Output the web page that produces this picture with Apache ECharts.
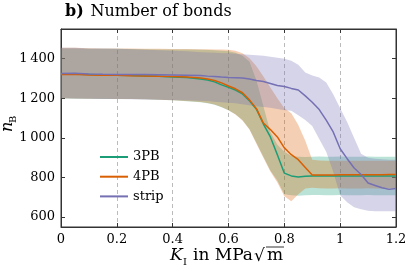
<!DOCTYPE html>
<html><head><meta charset="utf-8">
<script src="https://cdn.jsdelivr.net/npm/echarts@6/dist/echarts.min.js"></script>
<style>html,body{margin:0;padding:0;background:#fff}#c{width:410px;height:271px}</style>
</head><body><div id="c"></div>
<script>
// K_I values (MPa sqrt m)
var kVals = [0,0.05,0.1,0.15,0.2,0.25,0.3,0.35,0.4,0.45,0.5,0.525,0.55,0.575,0.6,0.625,0.65,0.675,0.7,0.725,0.75,0.775,0.8,0.825,0.85,0.875,0.9,0.925,0.95,0.975,1.0,1.025,1.05,1.075,1.1,1.125,1.15,1.175,1.2];
// 3PB
var mean3PB  = [1322,1322,1320,1318,1317,1315,1313,1311,1308,1305,1298,1292,1283,1268,1255,1242,1222,1188,1145,1070,1005,915,822,808,803,806,807,808,808,808,808,808,808,808,808,807,807,808,808];
var upper3PB = [1452,1452,1450,1450,1450,1449,1448,1447,1447,1446,1445,1444,1443,1440,1437,1430,1415,1385,1290,1160,1030,965,930,908,905,903,905,906,905,905,906,905,905,905,906,905,905,905,905];
var lower3PB = [1200,1198,1198,1197,1197,1196,1195,1193,1190,1185,1180,1175,1168,1155,1140,1120,1090,1045,975,905,835,785,715,710,708,710,712,711,710,710,711,710,710,710,711,710,710,710,710];
// 4PB
var mean4PB  = [1320,1321,1318,1317,1316,1314,1313,1311,1310,1307,1302,1297,1290,1278,1262,1248,1228,1192,1148,1075,1042,1005,950,915,890,850,813,813,813,813,814,814,814,814,814,814,814,815,815];
var upper4PB = [1455,1455,1453,1452,1452,1451,1450,1450,1449,1449,1448,1448,1447,1446,1445,1440,1428,1402,1362,1310,1255,1200,1150,1125,1065,985,890,886,885,885,885,885,885,885,885,885,885,885,885];
var lower4PB = [1200,1199,1198,1198,1197,1196,1195,1193,1190,1186,1181,1176,1169,1156,1140,1118,1088,1042,970,900,830,775,705,680,715,745,748,746,745,745,746,745,745,745,746,745,745,745,745];
// strip
var meanStrip  = [1325,1327,1323,1321,1320,1320,1320,1319,1318,1317,1315,1312,1310,1307,1305,1304,1303,1298,1290,1285,1275,1265,1260,1250,1242,1212,1180,1143,1090,1030,945,895,848,815,772,760,748,740,745];
var upperStrip = [1455,1455,1452,1451,1450,1448,1445,1443,1440,1437,1433,1431,1430,1428,1427,1425,1422,1420,1418,1415,1410,1405,1400,1390,1370,1330,1315,1305,1280,1220,1150,1080,1000,920,900,895,892,890,890];
var lowerStrip = [1200,1199,1198,1197,1196,1195,1194,1193,1192,1190,1188,1186,1183,1180,1178,1175,1170,1165,1160,1156,1152,1146,1140,1137,1115,1090,1060,995,930,830,710,675,650,640,632,630,630,630,630];
// axis ticks
var xTicks = [0,0.2,0.4,0.6,0.8,1,1.2];
var yTicks = [600,800,1000,1200,1400];

var SERIF = '"DejaVu Serif","Liberation Serif",serif';
var cols = {'3PB':'#1b9e77','4PB':'#d95f02','strip':'#7570b3'};
function pairs(a){return kVals.map(function(k,i){return [k,a[i]];});}
var groups = [
  {name:'3PB', mean:mean3PB, up:upper3PB, lo:lower3PB},
  {name:'4PB', mean:mean4PB, up:upper4PB, lo:lower4PB},
  {name:'strip', mean:meanStrip, up:upperStrip, lo:lowerStrip}
];
var series = [];
groups.forEach(function(g){
  var d = kVals.map(function(k,i){return [k, g.lo[i], g.up[i]];});
  series.push({type:'custom', name:g.name+' band', data:d, silent:true, z:1, animation:false,
    encode:{x:0, y:[1,2]},
    renderItem:function(params, api){
      if(params.dataIndex!==0) return null;
      var top=[], bot=[];
      for(var i=0;i<d.length;i++){
        top.push(api.coord([d[i][0], d[i][2]]));
        bot.push(api.coord([d[i][0], d[i][1]]));
      }
      var pts = top.concat(bot.reverse());
      return {type:'polygon', shape:{points:pts},
        style:{fill:cols[g.name], opacity:0.3, stroke:null}};
    }});
});
groups.forEach(function(g){
  series.push({type:'line', name:g.name, data:pairs(g.mean), symbol:'none', color:cols[g.name],
    lineStyle:{width:1.5, color:cols[g.name]}, z:3, animation:false});
});
function fmtY(v){ if(v>=1000){var r=String(v%1000);while(r.length<3)r='0'+r;return Math.floor(v/1000)+'\u2009'+r;} return String(v); }

var chart = echarts.init(document.getElementById('c'));
chart.setOption({
  animation:false,
  grid:{left:61, right:14, top:29, bottom:44, show:true, borderColor:'#333', borderWidth:1, backgroundColor:'transparent'},
  legend:{data:['3PB','4PB','strip'], orient:'vertical', left:95, top:145, itemWidth:28, itemHeight:2, itemGap:5.7,
    icon:'rect',
    textStyle:{fontFamily:SERIF, fontSize:13, color:'#000', lineHeight:14}},
  xAxis:[
    {type:'value', min:0, max:1.2, interval:0.2, position:'bottom',
     axisLine:{onZero:false, lineStyle:{color:'#333', width:1}}, axisTick:{inside:true, length:4, lineStyle:{color:'#333'}},
     axisLabel:{fontFamily:SERIF, fontSize:13, color:'#000', margin:6},
     splitLine:{show:true, lineStyle:{color:'#bbb', type:[4,3], width:1}}},
    {type:'value', min:0, max:1.2, interval:0.2, position:'top',
     axisLine:{show:true, onZero:false, lineStyle:{color:'#333', width:1}}, axisTick:{show:true, inside:true, length:4, lineStyle:{color:'#333'}},
     axisLabel:{show:false}, splitLine:{show:false}}
  ],
  yAxis:[
    {type:'value', min:550, max:1550, position:'left',
     axisLine:{show:true, onZero:false, lineStyle:{color:'#333', width:1}},
     axisTick:{show:true, inside:true, length:4, customValues:yTicks, lineStyle:{color:'#333'}},
     axisLabel:{fontFamily:SERIF, fontSize:13, color:'#000', margin:6, customValues:yTicks, formatter:fmtY},
     splitLine:{show:false}},
    {type:'value', min:550, max:1550, position:'right',
     axisLine:{show:true, onZero:false, lineStyle:{color:'#333', width:1}},
     axisTick:{show:true, inside:true, length:4, customValues:yTicks, lineStyle:{color:'#333'}},
     axisLabel:{show:false, customValues:yTicks}, splitLine:{show:false}}
  ],
  graphic:[
    {type:'text', left:65, top:4, style:{text:'{b|b)}  {r|Number of bonds}', rich:{
       b:{fontFamily:SERIF, fontSize:16, fontWeight:'bold', fill:'#000'},
       r:{fontFamily:SERIF, fontSize:16, fill:'#000'}}}},
    {type:'text', x:16, y:132, rotation:Math.PI/2, style:{text:'n', fontFamily:SERIF, fontSize:16, fontStyle:'italic', fill:'#000', textAlign:'left', textVerticalAlign:'bottom'}},
    {type:'text', x:18, y:123, rotation:Math.PI/2, style:{text:'B', fontFamily:SERIF, fontSize:10, fill:'#000', textAlign:'left', textVerticalAlign:'bottom'}},
    {type:'text', x:170, y:264, style:{text:'K', fontFamily:SERIF, fontSize:17, fontStyle:'italic', fill:'#000', textVerticalAlign:'bottom'}},
    {type:'text', x:183, y:267, style:{text:'I', fontFamily:SERIF, fontSize:10, fill:'#000', textVerticalAlign:'bottom'}},
    {type:'text', x:193, y:264, style:{text:'in MPa', fontFamily:SERIF, fontSize:17, fill:'#000', textVerticalAlign:'bottom'}},
    {type:'text', x:254, y:265, style:{text:'\u221A', fontFamily:SERIF, fontSize:17, fill:'#000', textVerticalAlign:'bottom'}},
    {type:'line', shape:{x1:266, y1:247, x2:284, y2:247}, style:{stroke:'#000', lineWidth:0.8}},
    {type:'text', x:267, y:264, style:{text:'m', fontFamily:SERIF, fontSize:17, fill:'#000', textVerticalAlign:'bottom'}}
  ],
  series:series
});
</script></body></html>
